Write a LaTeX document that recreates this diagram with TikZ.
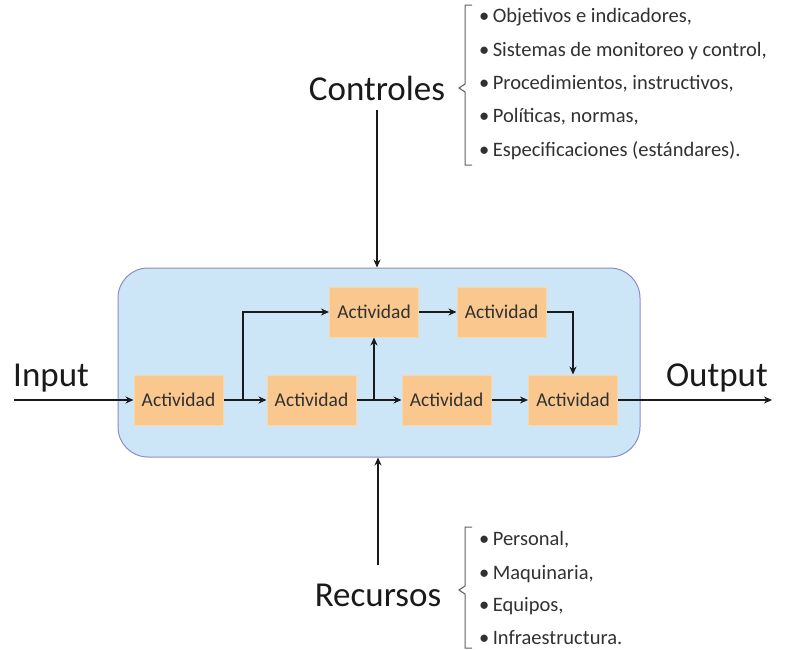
\documentclass[tikz,border=0pt]{standalone}
\usepackage{fontspec}
\setmainfont{Carlito}
\usetikzlibrary{arrows.meta,positioning}
\definecolor{pcBlue}{HTML}{CDE6F7}
\definecolor{pcEdge}{HTML}{8A8CCB}
\definecolor{pcOrange}{HTML}{FAC88E}
\definecolor{pcOrangeEdge}{HTML}{F6D9A8}
\definecolor{pcInk}{HTML}{1A1A1A}

\begin{document}
\begin{tikzpicture}[x=1pt,y=-1pt,>={Stealth[length=8pt,width=7pt]},
 act/.style={draw=pcOrangeEdge,line width=1pt,fill=pcOrange,minimum width=89pt,minimum height=50pt,inner sep=0pt,
  font=\fontsize{19.5}{22}\selectfont,text=pcInk!90},
 flow/.style={->,line width=2pt,pcInk},
 big/.style={font=\fontsize{35}{40}\selectfont,text=pcInk,inner sep=0pt},
 item/.style={anchor=west,inner sep=0pt,font=\fontsize{20.5}{24}\selectfont,text=pcInk!90},
 brack/.style={pcInk!70,line width=1pt}]
\useasboundingbox (0,0) rectangle (790,649);
% proceso
\node[draw=pcEdge,line width=1pt,fill=pcBlue,rounded corners=30pt,minimum width=522pt,minimum height=189pt] (proc) at (379,362.5) {};
\node[act] (a1) at (178.5,400) {Actividad};
\node[act] (a2) at (311.5,400) {Actividad};
\node[act] (a3) at (374,312) {Actividad};
\node[act] (a4) at (501.5,312) {Actividad};
\node[act] (a5) at (446.5,400) {Actividad};
\node[act] (a6) at (573,400) {Actividad};
\coordinate (b1) at (243,400);
\coordinate (b2) at (374,400);
\draw[flow] (a1) -- (a2);
\draw[flow] (b1) |- (a3);
\draw[flow] (a2) -- (a5);
\draw[flow] (b2) -- (a3);
\draw[flow] (a3) -- (a4);
\draw[flow] (a4) -| (a6);
\draw[flow] (a5) -- (a6);
% entrada y salida
\coordinate (in) at (14,400);
\coordinate (out) at (772,400);
\node[big,anchor=west] (inlbl) at (13,378) {Input};
\node[big,anchor=east] (outlbl) at (768,378) {Output};
\draw[flow] (in) -- (a1);
\draw[flow] (a6) -- (out);
% controles
\node[big] (ctrl) at (377,88) {Controles};
\draw[flow] (ctrl.south) ++(0,10) coordinate (c0) -- (c0 |- proc.north);
\draw[brack] (472,5) -- (465,5) -- (465,84) -- (459,88) -- (465,92) -- (465,165) -- (472,165);
\foreach \y/\txt in {17/{Objetivos e indicadores,},51/{Sistemas de monitoreo y control,},
 84/{Procedimientos, instructivos,},117/{Políticas, normas,},151/{Especificaciones (estándares).}}
 \node[item] at (479,\y) {\textbullet\,\txt};
% recursos
\node[big] (rec) at (378,595) {Recursos};
\draw[flow] (rec.north) ++(0,-18) coordinate (r0) -- (r0 |- proc.south);
\draw[brack] (472,527) -- (465,527) -- (465,586) -- (459,590) -- (465,594) -- (465,648) -- (472,648);
\foreach \y/\txt in {540/{Personal,},574/{Maquinaria,},606/{Equipos,},638/{Infraestructura.}}
 \node[item] at (479,\y) {\textbullet\,\txt};
\end{tikzpicture}
\end{document}
